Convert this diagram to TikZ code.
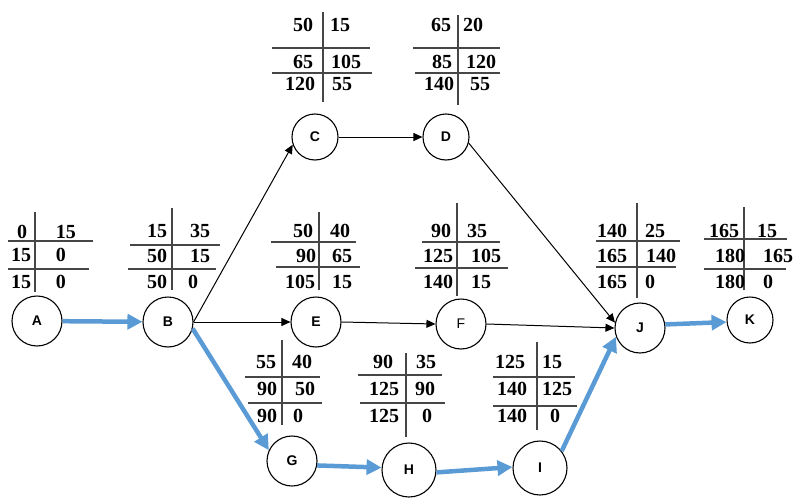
\documentclass[tikz,border=0pt]{standalone}
\usepackage{fontspec}
\setmainfont{Liberation Serif}
\newfontfamily\lsans{Liberation Sans}
\usetikzlibrary{arrows.meta}
\definecolor{cpblue}{RGB}{91,155,213}
\definecolor{tblgray}{RGB}{70,70,70}
\tikzset{
  evt/.style={circle,draw=black,line width=1.1pt,minimum size=50pt,inner sep=0pt,font=\lsans\bfseries\fontsize{14}{16}\selectfont},
  thinarr/.style={draw=black,line width=1pt,-{Triangle[length=9pt,width=8pt]}},
  critarr/.style={draw=cpblue,line width=4.5pt,-{Triangle[length=15pt,width=15pt]}},
  tline/.style={draw=tblgray,line width=1.2pt},
  num/.style={inner sep=0pt,font=\bfseries\fontsize{20}{22}\selectfont}
}
\begin{document}
\begin{tikzpicture}[x=1pt,y=-1pt]
\useasboundingbox (0,0) rectangle (796,498);
% events
\node[evt] (A) at (37,321) {A};
\node[evt] (B) at (168,322) {B};
\node[evt,minimum size=46pt] (C) at (315,137) {C};
\node[evt,minimum size=46pt] (D) at (446,137) {D};
\node[evt] (E) at (316,322) {E};
\node[evt,font=\lsans\fontsize{14}{16}\selectfont] (F) at (461,324) {F};
\node[evt] (J) at (640,328) {J};
\node[evt,minimum size=46pt] (K) at (750,320) {K};
\node[evt] (G) at (292,461) {G};
\node[evt,minimum size=54pt] (H) at (409,470) {H};
\node[evt,minimum size=54pt] (I) at (540,468) {I};
% activities
\draw[critarr] (A) -- (B);
\draw[thinarr] (B.east) -- (C.199);
\draw[thinarr] (B.east) -- (E.west);
\draw[critarr] (B.-15) -- (G.155);
\draw[thinarr] (C) -- (D);
\draw[thinarr] (D.-15) -- (J.168);
\draw[thinarr] (E.east) -- (F.west);
\draw[thinarr] (F.east) -- (J.180);
\draw[critarr] (G.-10) -- (H.175);
\draw[critarr] (H.-5) -- (I.178);
\draw[critarr] (I.38) -- (J.200);
\draw[critarr] (J.8) -- (K.185);
% tables
% A
\draw[tline] (35,212) -- (35,292);
\draw[tline] (8,241) -- (93,241);
\draw[tline] (8,269) -- (89,269);
\node[num] (a1) at (22,232) {0};
\node[num] (a2) at (66,232) {15};
\node[num] (a3) at (21,255) {15};
\node[num] (a4) at (61,255) {0};
\node[num] (a5) at (21,282) {15};
\node[num] (a6) at (61,282) {0};
% B
\draw[tline] (172,208) -- (172,290);
\draw[tline] (130,245) -- (220,245);
\draw[tline] (128,269) -- (216,269);
\node[num] (b1) at (157,231) {15};
\node[num] (b2) at (200,231) {35};
\node[num] (b3) at (157,256) {50};
\node[num] (b4) at (200,256) {15};
\node[num] (b5) at (157,282) {50};
\node[num] (b6) at (193,282) {0};
% C
\draw[tline] (323,12) -- (323,102);
\draw[tline] (272,48) -- (370,48);
\draw[tline] (272,73) -- (372,73);
\node[num] (c1) at (303,25) {50};
\node[num] (c2) at (340,25) {15};
\node[num] (c3) at (303,62) {65};
\node[num] (c4) at (346,62) {105};
\node[num] (c5) at (300,84) {120};
\node[num] (c6) at (342,84) {55};
% D
\draw[tline] (458,15) -- (458,105);
\draw[tline] (413,48) -- (500,48);
\draw[tline] (415,73) -- (500,73);
\node[num] (d1) at (441,25) {65};
\node[num] (d2) at (473,25) {20};
\node[num] (d3) at (442,62) {85};
\node[num] (d4) at (481,62) {120};
\node[num] (d5) at (439,84) {140};
\node[num] (d6) at (480,84) {55};
% E
\draw[tline] (319,212) -- (319,290);
\draw[tline] (271,242) -- (356,242);
\draw[tline] (276,267) -- (360,267);
\node[num] (e1) at (303,231) {50};
\node[num] (e2) at (340,231) {40};
\node[num] (e3) at (306,256) {90};
\node[num] (e4) at (342,256) {65};
\node[num] (e5) at (300,282) {105};
\node[num] (e6) at (342,282) {15};
% F
\draw[tline] (457,203) -- (457,296);
\draw[tline] (422,242) -- (500,242);
\draw[tline] (415,268) -- (508,268);
\node[num] (f1) at (441,231) {90};
\node[num] (f2) at (477,231) {35};
\node[num] (f3) at (438,256) {125};
\node[num] (f4) at (486,256) {105};
\node[num] (f5) at (438,282) {140};
\node[num] (f6) at (481,282) {15};
% J
\draw[tline] (637,203) -- (637,298);
\draw[tline] (596,241) -- (680,241);
\draw[tline] (596,267) -- (676,267);
\node[num] (j1) at (612,231) {140};
\node[num] (j2) at (655,231) {25};
\node[num] (j3) at (612,256) {165};
\node[num] (j4) at (661,256) {140};
\node[num] (j5) at (612,282) {165};
\node[num] (j6) at (650,282) {0};
% K
\draw[tline] (744,207) -- (744,290);
\draw[tline] (704,239) -- (787,239);
\draw[tline] (704,269) -- (786,269);
\node[num] (k1) at (724,231) {165};
\node[num] (k2) at (767,231) {15};
\node[num] (k3) at (730,256) {180};
\node[num] (k4) at (778,256) {165};
\node[num] (k5) at (730,282) {180};
\node[num] (k6) at (768,282) {0};
% G
\draw[tline] (282,340) -- (282,425);
\draw[tline] (245,377) -- (320,377);
\draw[tline] (248,403) -- (322,403);
\node[num] (g1) at (266,362) {55};
\node[num] (g2) at (302,362) {40};
\node[num] (g3) at (267,389) {90};
\node[num] (g4) at (305,389) {50};
\node[num] (g5) at (267,416) {90};
\node[num] (g6) at (298,416) {0};
% H
\draw[tline] (406,353) -- (406,437);
\draw[tline] (358,375) -- (442,375);
\draw[tline] (360,403) -- (445,403);
\node[num] (h1) at (383,362) {90};
\node[num] (h2) at (426,362) {35};
\node[num] (h3) at (384,389) {125};
\node[num] (h4) at (425,389) {90};
\node[num] (h5) at (384,416) {125};
\node[num] (h6) at (427,416) {0};
% I
\draw[tline] (537,342) -- (537,430);
\draw[tline] (493,377) -- (575,377);
\draw[tline] (493,406) -- (577,406);
\node[num] (i1) at (510,362) {125};
\node[num] (i2) at (552,362) {15};
\node[num] (i3) at (512,389) {140};
\node[num] (i4) at (557,389) {125};
\node[num] (i5) at (512,416) {140};
\node[num] (i6) at (555,416) {0};
\end{tikzpicture}
\end{document}
